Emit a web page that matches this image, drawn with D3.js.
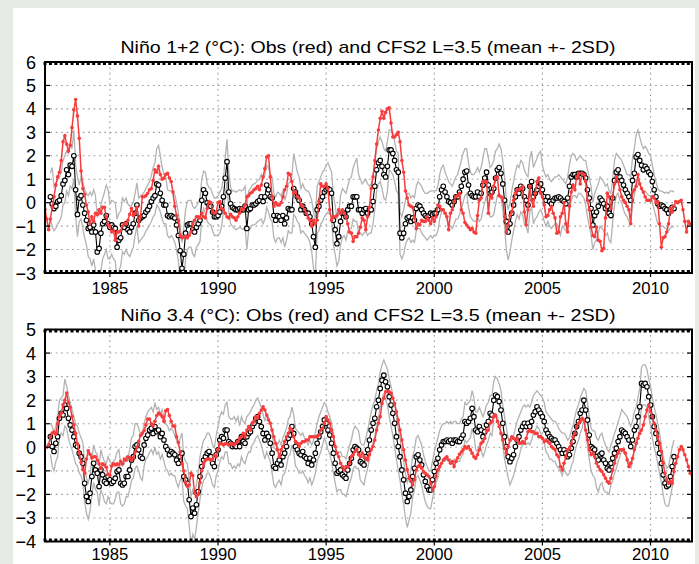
<!DOCTYPE html>
<html lang="en">
<head>
<meta charset="utf-8">
<title>Nino SST: Obs and CFS2</title>
<script src="https://cdn.jsdelivr.net/npm/d3@7"></script>
<style>
  body { margin: 0; background: #e8eae5; }
  svg { display: block; }
  text { font-family: "Liberation Sans", Arial, sans-serif; fill: #000; }
</style>
</head>
<body>
<script>

//****************************************************************************************************//
// Data (monthly, index 0 = Jan 1982)

var startYear = 1982;
var yearTicks = [1985, 1990, 1995, 2000, 2005, 2010];
var yTicks12 = [-3, -2, -1, 0, 1, 2, 3, 4, 5, 6];
var yTicks34 = [-4, -3, -2, -1, 0, 1, 2, 3, 4, 5];

var titles = ["Niño 1+2 (°C): Obs (red) and CFS2 L=3.5 (mean +- 2SD)",
              "Niño 3.4 (°C): Obs (red) and CFS2 L=3.5 (mean +- 2SD)"];

var obs12 = [
 -0.3,-0.7,-1.15,-0.7,-0.2,0.25,0.75,1.1,1.3,1.8,2.6,2.85,
 2.5,2.2,2.45,3.2,3.95,4.4,3.7,2.75,1.35,0.6,0.35,-0.1,
 -0.4,-0.9,-0.6,-0.8,-0.45,-0.5,-0.3,-0.45,-0.2,-0.2,-0.6,-0.95,
 -1.0,-1.25,-1.2,-1.6,-1.25,-1.25,-1.2,-1.0,-0.9,-0.9,-0.75,-0.5,
 -0.25,-0.55,-0.45,-0.2,-1.0,-0.6,0.25,0.25,0.3,0.4,0.55,0.6,
 0.95,1.4,1.3,1.55,1.2,1.0,1.05,1.2,1.25,1.05,0.9,0.45,
 -0.15,-0.55,-0.75,-1.4,-1.5,-1.45,-1.45,-1.5,-1.4,-1.25,-0.9,-0.75,
 -0.6,-0.6,-0.65,-0.45,-0.6,-0.65,-0.25,0.05,0.0,-0.4,-0.45,-0.4,
 0.0,0.05,-0.25,-0.3,-0.45,-0.6,-0.65,-0.5,-0.6,-0.65,-0.75,-0.6,
 -0.45,-0.25,-0.3,-0.1,0.25,0.3,0.4,0.45,0.55,0.6,0.7,0.55,
 0.75,1.1,1.45,1.95,2.0,1.1,0.25,-0.15,0.0,-0.1,-0.1,0.0,
 0.25,0.55,0.7,1.25,1.2,0.9,0.4,0.45,0.25,0.2,-0.1,-0.15,
 -0.3,-0.45,-0.65,-0.75,-1.0,-0.75,-0.9,-0.75,0.05,0.8,0.7,0.7,
 0.8,0.6,-0.3,-0.75,-0.6,-0.6,-0.55,-0.3,-0.45,-0.3,-0.45,-0.6,
 -0.9,-1.25,-1.3,-1.65,-1.45,-1.45,-1.3,-1.05,-0.65,-0.75,-1.15,-0.6,
 -0.2,0.6,1.1,1.8,2.5,3.1,3.6,3.9,3.6,3.85,4.0,4.05,
 3.4,2.8,2.8,2.9,3.0,2.6,1.8,1.3,0.5,0.2,-0.1,-0.15,
 -0.2,-0.65,-1.1,-0.9,-0.95,-0.75,-0.8,-0.8,-0.6,-0.75,-0.9,-0.65,
 -0.8,-0.6,-0.1,-0.15,-0.3,-0.3,-0.45,-0.6,-1.15,-0.45,-0.3,0.05,
 0.25,0.3,0.4,-0.3,-0.45,-0.85,-0.95,-1.05,-1.15,-1.1,-1.25,-1.3,
 -0.55,0.1,0.2,0.9,0.9,0.9,-0.45,0.3,0.2,0.7,1.05,1.1,
 0.3,0.25,0.2,-0.6,-1.25,-0.95,-0.55,-0.4,0.1,0.4,0.55,0.55,
 0.6,0.7,-0.4,-0.95,-0.3,0.7,0.1,-0.15,0.4,0.9,1.05,0.4,
 0.25,-0.1,-0.6,-0.55,-0.3,-0.15,-0.45,-0.65,-1.3,-1.25,-0.6,-0.45,
 0.0,-0.9,-1.25,-0.15,0.45,0.75,0.55,1.1,1.25,0.8,1.25,1.2,
 0.9,0.1,-0.3,-1.05,-1.4,-1.45,-1.05,-1.6,-1.65,-2.05,-1.95,-0.65,
 0.4,0.25,-0.25,0.25,0.8,1.1,0.9,0.55,0.25,0.1,0.0,-0.15,
 -0.3,-0.9,0.45,0.55,0.7,1.2,0.8,0.6,0.45,0.25,0.1,0.1,
 0.1,0.25,0.2,0.0,0.05,-0.9,-1.9,-1.5,-1.45,-1.25,-0.9,-0.25,
 -0.4,-0.15,0.05,0.0,0.05,0.1,-0.3,-0.8,-1.25,-0.8,-0.9,-0.9
];

var mean12 = [
 null,null,null,0.25,-0.05,-0.25,-0.15,0.05,0.1,0.3,0.8,0.95,
 1.4,1.2,1.6,1.55,2.0,0.55,-0.5,0.2,0.3,-0.1,-0.45,-0.75,
 -1.1,-1.05,-1.25,-0.95,-1.25,-2.1,-1.95,-1.3,-0.9,-0.8,-0.55,-0.9,
 -1.05,-0.95,-1.05,-1.1,-1.9,-1.6,-1.5,-0.95,-1.05,-0.9,-1.15,-1.25,
 -1.05,-0.9,-0.45,-0.1,-0.75,-0.65,-0.6,-0.55,-0.4,-0.3,-0.15,0.05,
 0.2,0.3,0.8,0.75,0.4,0.1,-0.1,-0.1,-0.55,-0.6,-0.55,-0.6,
 -0.65,-0.95,-1.4,-2.05,-2.8,-2.2,-1.3,-0.95,-0.9,-0.9,-1.15,-1.25,
 -1.05,-0.9,-0.75,0.1,0.55,0.4,0.0,-0.1,-0.15,-0.4,-0.6,-0.6,
 -0.55,-0.4,-0.15,0.25,1.05,1.75,0.45,-0.05,-0.2,-0.25,-0.3,-0.3,
 -0.25,-0.3,-0.3,-0.15,-1.1,-0.3,-0.25,-0.1,-0.1,-0.05,0.05,0.1,
 0.25,0.05,0.25,0.75,0.55,0.25,0.2,-0.55,-0.75,-0.55,-0.6,-0.75,
 -0.55,-0.9,-0.65,-0.25,-0.3,-0.3,0.6,0.45,0.25,0.1,-0.3,-0.15,
 -0.3,-0.45,-0.45,-0.6,-0.9,-1.45,-1.9,-0.3,-0.15,0.1,0.25,0.45,
 0.55,0.6,0.55,0.4,-0.75,-1.15,-1.75,-1.45,-0.8,-0.45,-0.45,-0.6,
 -0.3,-0.15,-0.15,0.25,0.25,0.25,-0.3,-0.3,-0.45,-0.3,-0.25,-0.45,
 -0.3,-0.3,0.05,0.7,1.4,1.7,1.8,1.55,1.2,1.1,1.55,2.25,
 2.25,2.1,1.8,1.4,1.3,-1.3,-1.5,-1.3,-0.9,-0.65,-0.6,-0.8,
 -0.65,-0.75,-0.25,-0.1,-0.15,-0.3,-0.45,-0.55,-0.6,-0.55,-0.45,-0.5,
 -0.45,-0.45,-0.3,0.25,0.55,0.7,0.45,0.25,0.05,0.0,-0.1,0.05,
 0.25,0.25,0.45,0.7,1.0,1.3,1.35,0.75,0.4,0.3,0.25,0.25,
 0.45,0.25,0.4,0.75,1.05,1.3,0.75,0.4,0.45,0.6,1.05,1.4,
 1.5,1.25,0.8,0.1,-0.8,-1.25,-0.9,-0.45,-0.1,0.25,0.55,0.4,
 0.7,0.6,0.25,0.1,-0.1,0.7,0.9,0.25,0.4,0.55,0.7,0.8,
 0.55,0.25,0.1,0.25,0.05,-0.05,0.1,0.2,0.2,0.25,0.2,0.1,
 0.05,-0.05,0.2,0.7,1.1,1.2,1.2,1.1,1.25,1.25,1.25,1.2,
 1.05,0.55,0.2,-0.25,-0.95,-0.55,-0.4,-0.15,0.2,0.1,-0.05,-0.25,
 -0.15,-0.45,-0.55,0.2,0.95,1.3,1.4,1.1,0.95,0.75,0.55,0.4,
 0.25,0.1,0.95,1.25,1.95,2.05,1.8,1.6,1.4,1.55,1.45,1.3,
 1.2,0.9,0.55,0.25,-0.05,-0.15,-0.1,-0.15,-0.25,-0.3,-0.45,-0.3,
 -0.2,-0.25,null,null,null,null,null,null,null,null,null,null
];

var upper12 = [
 null,null,null,1.25,1.5,0.7,0.85,0.95,1.1,1.3,1.8,2.0,
 2.2,2.1,2.5,2.3,3.1,1.6,1.1,0.75,1.1,0.9,0.55,0.4,
 0.3,0.45,0.3,0.55,0.3,-0.6,-0.5,-0.1,0.2,0.45,0.75,0.55,
 -0.05,0.1,0.05,0.0,-0.7,-0.45,-0.35,0.2,0.05,0.2,-0.05,-0.15,
 -0.1,0.0,0.4,0.85,0.2,0.3,0.35,0.45,0.6,0.75,0.9,1.15,
 1.5,1.7,2.3,2.45,2.0,1.5,1.2,1.1,0.55,0.5,0.5,0.45,
 0.35,0.0,-0.45,-1.0,-1.7,-1.1,-0.3,0.05,0.1,0.1,-0.15,-0.25,
 -0.15,0.0,0.15,1.0,1.35,1.3,0.8,0.65,0.6,0.35,0.2,0.2,
 0.3,0.45,0.6,1.0,1.9,2.7,1.3,0.65,0.5,0.5,0.45,0.5,
 0.55,0.5,0.55,0.7,-0.2,0.5,0.6,0.75,0.8,0.85,0.95,1.0,
 1.2,1.0,1.2,1.6,1.5,1.2,1.1,0.4,0.25,0.45,0.4,0.3,
 0.5,0.1,0.35,0.8,0.9,1.1,2.1,1.7,1.3,1.1,0.6,0.8,
 0.6,0.5,0.5,0.35,0.1,-0.4,-0.7,0.7,0.9,1.1,1.3,1.4,
 1.6,1.7,1.5,1.3,0.3,-0.1,-0.7,-0.4,0.3,0.6,0.5,0.4,
 0.7,1.0,1.1,1.5,1.7,1.9,1.2,1.0,0.8,0.9,1.0,0.8,
 0.7,0.8,1.1,1.7,2.3,2.6,2.8,2.6,2.3,2.2,2.6,3.1,
 3.1,3.0,2.6,2.2,2.1,-0.4,-0.6,-0.3,0.1,0.4,0.4,0.2,
 0.3,0.2,0.7,0.9,0.8,0.7,0.5,0.4,0.4,0.45,0.5,0.5,
 0.5,0.5,0.7,1.2,1.5,1.6,1.3,1.1,0.9,0.8,0.7,0.9,
 1.1,1.2,1.5,1.8,2.1,2.3,2.3,1.7,1.3,1.2,1.2,1.3,
 1.5,1.3,1.5,1.9,2.3,2.3,1.9,1.5,1.6,1.8,2.2,2.3,
 2.5,2.3,1.8,1.1,0.1,-0.3,0.0,0.5,0.9,1.3,1.6,1.5,
 1.8,1.7,1.4,1.2,1.1,1.9,2.2,1.5,1.7,1.9,2.1,2.2,
 1.6,1.3,1.1,1.2,1.0,0.9,1.0,1.1,1.1,1.2,1.1,1.0,
 0.9,0.8,1.1,1.6,2.0,2.1,2.0,1.8,1.9,2.0,1.9,1.8,
 1.8,1.4,1.1,0.7,0.0,0.4,0.6,0.8,1.1,1.0,0.9,0.7,
 0.8,0.5,0.4,1.0,1.8,2.1,2.0,1.9,1.8,1.6,1.4,1.2,
 1.2,1.1,1.9,2.3,2.9,3.1,2.8,2.5,2.3,2.4,2.3,2.1,
 2.0,1.6,1.2,0.9,0.6,0.5,0.5,0.45,0.4,0.45,0.4,0.5,
 0.5,0.45,null,null,null,null,null,null,null,null,null,null
];

var lower12 = [
 null,null,null,-0.7,-1.0,-1.2,-1.1,-0.9,-0.8,-0.6,-0.1,0.0,
 0.5,0.3,0.7,0.6,1.0,-0.6,-1.45,-0.8,-0.7,-1.1,-1.5,-1.8,
 -2.3,-2.4,-2.7,-2.4,-2.9,-3.6,-3.5,-2.9,-2.4,-2.2,-2.0,-2.4,
 -2.4,-2.2,-2.4,-2.5,-3.3,-2.9,-2.7,-2.1,-2.2,-2.0,-2.2,-2.3,
 -2.1,-1.9,-1.4,-1.0,-1.7,-1.6,-1.5,-1.4,-1.2,-1.1,-0.95,-0.8,
 -0.6,-0.5,-0.1,-0.2,-0.4,-0.7,-0.9,-0.9,-1.4,-1.5,-1.4,-1.5,
 -1.7,-2.0,-2.5,-3.2,-4.0,-3.4,-2.4,-2.0,-1.9,-1.9,-2.2,-2.3,
 -1.9,-1.8,-1.65,-0.7,-0.25,-0.45,-0.8,-0.9,-0.95,-1.2,-1.4,-1.4,
 -1.4,-1.3,-1.0,-0.4,0.3,0.9,-0.4,-0.9,-1.0,-1.1,-1.15,-1.1,
 -1.05,-1.1,-1.15,-1.0,-2.0,-1.2,-1.1,-0.95,-0.95,-0.9,-0.8,-0.75,
 -0.7,-0.9,-0.7,-0.2,-0.4,-0.7,-0.8,-1.5,-1.7,-1.5,-1.5,-1.7,
 -1.5,-1.9,-1.6,-1.2,-1.3,-1.3,-0.5,-0.6,-0.8,-0.9,-1.3,-1.2,
 -1.3,-1.4,-1.5,-1.7,-2.1,-2.8,-3.2,-1.3,-1.2,-0.9,-0.8,-0.6,
 -0.5,-0.4,-0.5,-0.6,-1.8,-2.2,-2.7,-2.5,-1.8,-1.5,-1.4,-1.6,
 -1.2,-1.1,-1.1,-0.7,-0.8,-0.8,-1.3,-1.3,-1.4,-1.3,-1.2,-1.4,
 -1.3,-1.3,-0.9,-0.3,0.5,0.8,0.9,0.6,0.2,0.1,0.5,1.4,
 1.3,1.2,0.9,0.5,0.4,-2.2,-2.4,-2.2,-1.8,-1.6,-1.5,-1.7,
 -1.6,-1.7,-1.2,-1.1,-1.1,-1.3,-1.4,-1.5,-1.6,-1.5,-1.4,-1.5,
 -1.4,-1.4,-1.2,-0.7,-0.4,-0.3,-0.5,-0.7,-0.9,-1.0,-1.1,-0.9,
 -0.7,-0.7,-0.5,-0.3,0.0,0.3,0.4,-0.2,-0.6,-0.7,-0.8,-0.8,
 -0.6,-0.8,-0.7,-0.3,0.0,0.3,-0.3,-0.6,-0.6,-0.5,-0.1,0.3,
 0.4,0.2,-0.3,-1.0,-2.0,-2.45,-2.1,-1.6,-1.2,-0.8,-0.5,-0.7,
 -0.4,-0.5,-0.9,-1.0,-1.3,-0.4,-0.2,-0.9,-0.7,-0.6,-0.4,-0.3,
 -0.5,-0.8,-1.0,-0.8,-1.0,-1.1,-1.0,-0.9,-0.9,-1.2,-1.4,-1.0,
 -1.1,-1.2,-1.0,-0.4,0.1,0.3,0.3,0.2,0.4,0.4,0.3,0.2,
 -0.1,-0.6,-1.0,-1.4,-2.0,-1.7,-1.6,-1.3,-1.0,-1.1,-1.2,-1.4,
 -1.3,-1.6,-1.7,-0.8,-0.1,0.3,0.4,0.1,0.0,-0.3,-0.5,-0.6,
 -0.8,-0.9,-0.1,0.3,0.9,1.0,0.8,0.6,0.4,0.5,0.4,0.3,
 0.3,0.0,-0.3,-0.6,-0.9,-1.0,-1.0,-1.0,-1.1,-1.1,-1.2,-1.1,
 -1.0,-1.05,null,null,null,null,null,null,null,null,null,null
];

var obs34 = [
 0.0,0.0,0.1,0.45,0.6,0.65,0.55,1.0,1.3,1.45,1.8,2.0,
 2.3,1.9,1.7,1.3,0.95,0.6,0.15,-0.25,-0.65,-0.95,-1.1,-0.5,
 -0.15,-0.3,-0.45,-0.4,-0.4,-0.55,-0.7,-0.9,-0.7,-0.75,-0.85,-1.15,
 -1.2,-0.8,-0.7,-0.75,-0.7,-0.75,-0.6,-0.7,-0.5,-0.55,-0.4,-0.45,
 -0.55,-0.45,-0.2,0.0,0.25,0.5,0.6,0.7,0.95,1.2,1.2,1.0,
 0.9,1.1,1.35,1.45,1.4,1.3,1.1,1.55,1.6,1.35,1.1,0.9,
 0.9,0.45,0.2,-0.2,-0.7,-1.0,-1.5,-1.65,-1.6,-1.1,-1.2,-1.95,
 -2.1,-2.0,-1.5,-1.0,-0.7,-0.55,-0.5,-0.5,-0.55,-0.5,-0.35,-0.4,
 -0.1,0.15,0.15,0.1,0.15,0.15,0.1,0.15,0.15,0.1,0.17,0.24,
 0.38,0.45,0.59,0.45,0.73,0.88,0.73,1.02,1.09,1.3,1.23,1.44,
 1.58,1.72,1.58,1.37,1.16,1.02,0.73,0.45,0.17,-0.11,-0.4,-0.11,
 0.03,0.24,0.45,0.59,0.81,0.73,0.45,0.24,0.17,0.03,0.17,0.24,
 0.24,0.31,0.31,0.45,0.45,0.45,0.45,0.45,0.52,0.73,0.81,1.02,
 1.3,1.16,1.02,0.73,0.45,0.03,-0.25,-0.4,-0.68,-0.82,-0.96,-0.82,
 -0.82,-0.68,-0.4,-0.32,-0.18,-0.11,-0.32,-0.4,-0.25,-0.4,-0.47,-0.54,
 -0.32,-0.11,0.03,0.31,0.73,1.02,1.3,1.86,2.08,2.36,2.36,2.36,
 2.29,2.08,1.86,1.51,1.16,0.73,0.31,-0.11,-0.54,-0.96,-1.31,-1.45,
 -1.6,-1.38,-0.96,-0.82,-0.75,-0.89,-1.03,-1.1,-1.17,-1.24,-1.53,-1.81,
 -1.67,-1.24,-0.96,-0.82,-0.68,-0.54,-0.47,-0.4,-0.54,-0.68,-0.61,-0.82,
 -0.6,-0.45,-0.3,-0.2,-0.1,0.03,-0.04,0.03,-0.11,-0.25,-0.4,-0.47,
 -0.32,-0.11,0.17,0.24,0.38,0.73,0.73,1.02,1.09,1.3,1.37,1.09,
 0.88,0.59,0.31,-0.04,-0.25,0.03,0.31,0.45,0.38,0.31,0.38,0.17,
 0.17,0.24,0.17,0.38,0.66,0.73,0.66,0.66,0.59,0.59,0.45,0.45,
 0.38,0.24,0.31,0.24,0.17,0.03,-0.04,-0.11,-0.32,-0.4,-0.82,-0.96,
 -0.68,-0.4,-0.11,-0.04,0.17,0.45,0.59,0.88,1.02,1.1,1.23,1.16,
 0.73,0.31,-0.11,-0.32,-0.25,-0.4,-0.68,-0.82,-0.96,-1.03,-1.17,-1.31,
 -1.45,-1.53,-1.31,-0.96,-0.68,-0.4,-0.25,-0.11,-0.11,-0.11,-0.25,-0.54,
 -0.82,-0.68,-0.47,-0.11,0.17,0.38,0.59,0.73,0.95,1.3,1.58,1.79,
 1.51,1.3,1.02,0.73,0.45,0.17,-0.18,-0.68,-1.1,-1.38,-1.53,-1.45,
 -1.53,-1.03,-0.68,-0.4,-0.11,0.03,-0.11,-0.32,-0.54,-0.82,-1.1,-1.17
];

var mean34 = [
 null,null,null,0.45,0.03,-0.18,0.17,0.45,1.23,1.44,1.37,1.79,
 1.65,1.23,0.95,0.73,0.45,0.1,0.03,-0.25,-0.4,-0.68,-1.53,-2.09,
 -2.3,-1.95,-1.24,-0.68,-0.96,-1.1,-1.67,-0.96,-1.17,-1.45,-1.53,-1.24,
 -1.38,-1.53,-1.45,-1.31,-1.03,-0.96,-1.53,-1.6,-1.53,-1.24,-1.24,-0.96,
 -0.54,-0.4,0.03,0.1,-0.11,-0.4,-0.47,0.1,0.38,0.52,0.73,0.81,
 0.59,0.88,0.66,0.73,0.45,0.59,0.31,0.03,-0.11,-0.32,-0.18,-0.25,
 -0.32,-0.54,-0.68,-0.4,-0.25,-1.24,-1.38,-1.53,-2.23,-2.94,-2.58,-2.8,
 -2.44,-1.88,-1.24,-0.82,-0.54,-0.4,-0.25,-0.18,-0.4,-0.68,-0.82,-0.32,
 -0.11,0.31,0.45,0.38,0.73,0.73,0.24,0.17,0.03,0.1,0.03,0.24,
 0.03,0.45,0.24,0.17,0.45,0.59,0.66,0.88,1.02,1.23,1.3,1.09,
 0.88,0.59,0.31,0.59,0.45,0.17,-0.25,-0.82,-0.89,-0.68,-0.54,-0.75,
 -0.4,-0.25,0.03,0.38,0.52,0.88,0.59,0.03,-0.11,-0.25,-0.32,-0.18,
 -0.4,-0.47,-0.68,-0.47,-0.75,-0.54,-0.25,0.17,0.45,0.66,0.88,1.16,
 1.02,0.73,0.52,0.17,-0.25,-0.68,-1.1,-1.03,-0.96,-1.17,-1.24,-1.31,
 -0.96,-0.68,-0.47,-0.11,0.03,-0.04,-0.11,-0.61,-0.68,-0.75,-0.4,-0.11,
 0.31,0.73,1.02,1.23,1.72,2.0,2.5,2.85,3.06,2.78,2.57,2.15,
 1.79,1.44,1.02,0.45,0.03,-0.4,-0.96,-1.38,-1.95,-2.3,-2.09,-1.81,
 -1.24,-0.89,-0.4,-0.32,-0.54,-0.75,-1.17,-1.45,-1.67,-1.81,-1.81,-1.38,
 -1.03,-0.68,-0.47,-0.11,0.1,0.24,0.24,0.31,0.24,0.31,0.17,0.31,
 0.31,0.24,0.24,0.38,0.52,1.09,1.02,1.09,1.23,1.65,1.3,0.73,
 0.66,0.88,0.73,0.45,0.66,0.95,1.09,1.44,1.37,2.0,2.22,2.15,
 1.94,1.58,1.02,0.45,0.03,-0.4,-0.61,-0.47,-0.32,0.03,0.31,0.45,
 0.73,0.88,1.02,0.88,1.02,0.88,1.09,1.37,1.51,1.72,1.58,1.44,
 1.3,1.09,0.73,0.59,0.45,0.38,0.31,0.31,0.17,0.03,-0.11,-0.25,
 -0.11,-0.25,-0.4,-0.32,-0.04,0.24,0.59,0.88,1.09,1.44,1.58,2.0,
 1.58,1.16,0.52,0.03,-0.04,-0.11,-0.4,-0.54,-0.32,-0.25,-0.54,-0.68,
 -0.89,-0.96,-0.68,-0.47,-0.25,-0.04,0.24,0.45,0.73,0.66,0.59,0.45,
 0.31,0.03,0.31,0.73,0.88,1.3,1.72,2.71,2.64,2.71,2.57,2.15,
 1.79,1.3,0.88,0.59,0.17,-0.25,-0.68,-1.17,-1.53,-1.67,-1.6,-1.24,
 -0.82,-0.4,null,null,null,null,null,null,null,null,null,null
];

var upper34 = [
 null,null,null,1.0,0.9,0.6,0.9,1.3,2.0,2.1,2.2,2.9,
 2.6,2.2,1.9,1.6,1.3,1.0,0.9,0.6,0.4,0.2,-0.7,-1.3,
 -1.5,-1.2,-0.5,0.1,-0.2,-0.3,-0.8,-0.1,-0.4,-0.6,-0.7,-0.4,
 -0.6,-0.7,-0.6,-0.5,-0.2,-0.1,-0.7,-0.8,-0.7,-0.4,-0.5,-0.1,
 0.4,0.5,1.0,1.0,0.8,0.5,0.5,1.0,1.3,1.5,1.6,1.7,
 1.5,1.9,1.6,1.7,1.4,1.6,1.3,1.0,0.9,0.7,0.8,0.7,
 0.5,0.3,0.1,0.4,0.6,-0.4,-0.6,-0.7,-1.4,-2.1,-1.8,-2.0,
 -1.6,-1.1,-0.4,0.0,0.3,0.4,0.6,0.6,0.4,0.1,0.0,0.5,
 0.9,1.3,1.5,1.4,1.8,1.9,1.3,1.2,1.2,1.3,1.1,1.3,
 0.9,1.3,1.1,1.0,1.3,1.4,1.5,1.7,1.8,2.0,2.1,1.9,
 1.7,1.4,1.1,1.4,1.3,1.0,0.6,0.0,-0.1,0.1,0.3,0.1,
 0.4,0.6,0.8,1.2,1.3,1.7,1.4,0.8,0.7,0.6,0.5,0.6,
 0.4,0.3,0.1,0.3,0.1,0.3,0.6,1.0,1.3,1.5,1.7,1.9,
 1.8,1.5,1.3,1.0,0.6,0.1,-0.3,-0.2,-0.2,-0.4,-0.4,-0.5,
 -0.2,0.1,0.3,0.7,0.9,0.8,0.7,0.2,0.1,0.1,0.4,0.7,
 1.1,1.5,1.8,2.0,2.4,2.7,3.2,3.5,3.7,3.5,3.3,2.9,
 2.6,2.2,1.8,1.3,0.8,0.4,-0.2,-0.6,-1.1,-1.5,-1.3,-1.0,
 -0.4,-0.1,0.4,0.5,0.3,0.1,-0.3,-0.6,-0.8,-1.0,-1.0,-0.6,
 -0.2,0.1,0.4,0.7,0.9,1.0,1.0,1.1,1.0,1.1,1.0,1.1,
 1.1,1.0,1.0,1.2,1.3,1.9,1.8,1.9,2.0,2.4,2.1,1.5,
 1.5,1.7,1.5,1.3,1.5,1.8,1.9,2.2,2.2,2.8,3.0,2.9,
 2.7,2.4,1.8,1.3,0.8,0.4,0.2,0.3,0.5,0.8,1.1,1.3,
 1.5,1.7,1.8,1.7,1.8,1.7,1.9,2.2,2.3,2.4,2.3,2.2,
 2.1,1.9,1.5,1.4,1.3,1.2,1.1,1.1,1.0,0.8,0.7,0.6,
 0.6,0.5,0.3,0.4,0.7,0.9,1.3,1.6,1.8,2.1,2.3,2.5,
 2.4,1.9,1.3,0.8,0.7,0.7,0.4,0.3,0.5,0.6,0.3,0.1,
 -0.1,-0.2,0.1,0.3,0.6,0.8,1.1,1.3,1.6,1.5,1.4,1.3,
 1.1,0.9,1.1,1.5,1.7,2.1,2.5,3.4,3.5,3.5,3.3,2.9,
 2.6,2.1,1.7,1.4,1.0,0.6,0.1,-0.4,-0.7,-0.9,-0.8,-0.4,
 0.0,0.3,null,null,null,null,null,null,null,null,null,null
];

var lower34 = [
 null,null,null,-0.3,-0.8,-1.0,-0.6,-0.4,0.4,0.6,0.5,0.9,
 0.8,0.4,0.1,-0.1,-0.4,-0.7,-0.8,-1.1,-1.2,-1.5,-2.3,-2.8,
 -3.05,-2.7,-2.0,-1.5,-1.8,-1.9,-2.5,-1.8,-2.0,-2.3,-2.4,-2.1,
 -2.3,-2.4,-2.4,-2.2,-1.9,-1.9,-2.4,-2.5,-2.4,-2.1,-2.1,-1.8,
 -1.4,-1.3,-0.9,-0.8,-1.0,-1.3,-1.4,-0.8,-0.5,-0.4,-0.2,-0.1,
 -0.3,0.0,-0.3,-0.2,-0.5,-0.3,-0.6,-0.9,-1.0,-1.2,-1.1,-1.2,
 -1.2,-1.5,-1.7,-1.4,-1.3,-2.3,-2.5,-2.6,-3.3,-4.1,-3.7,-3.9,
 -3.4,-2.8,-2.2,-1.7,-1.4,-1.3,-1.1,-1.1,-1.3,-1.6,-1.7,-1.2,
 -1.0,-0.6,-0.4,-0.5,-0.2,-0.2,-0.7,-0.7,-0.9,-0.8,-0.9,-0.7,
 -0.8,-0.4,-0.6,-0.7,-0.4,-0.2,-0.2,0.1,0.2,0.4,0.5,0.3,
 0.1,-0.2,-0.5,-0.2,-0.4,-0.6,-1.1,-1.6,-1.7,-1.5,-1.4,-1.6,
 -1.2,-1.1,-0.8,-0.4,-0.3,0.1,-0.2,-0.8,-0.9,-1.1,-1.1,-1.0,
 -1.2,-1.3,-1.5,-1.3,-1.6,-1.4,-1.1,-0.6,-0.4,-0.2,0.1,0.4,
 0.2,-0.1,-0.3,-0.6,-1.1,-1.5,-1.9,-1.8,-1.8,-2.0,-2.0,-2.1,
 -1.8,-1.5,-1.3,-0.9,-0.8,-0.9,-0.9,-1.4,-1.5,-1.6,-1.2,-0.9,
 -0.5,-0.1,0.2,0.4,0.9,1.2,1.7,2.0,2.3,2.0,1.8,1.3,
 0.9,0.5,0.0,-0.5,-1.0,-1.4,-2.0,-2.4,-3.0,-3.4,-3.1,-2.8,
 -2.1,-1.8,-1.3,-1.2,-1.4,-1.6,-2.0,-2.3,-2.5,-2.6,-2.6,-2.2,
 -1.8,-1.5,-1.3,-0.9,-0.7,-0.6,-0.6,-0.5,-0.6,-0.5,-0.7,-0.5,
 -0.5,-0.6,-0.6,-0.4,-0.3,0.3,0.2,0.3,0.4,0.8,0.5,-0.1,
 -0.2,0.1,-0.1,-0.4,-0.2,0.1,0.3,0.6,0.5,1.2,1.4,1.3,
 1.0,0.7,0.1,-0.5,-0.9,-1.3,-1.6,-1.4,-1.2,-0.9,-0.6,-0.4,
 -0.1,0.1,0.2,0.1,0.2,0.1,0.3,0.6,0.7,0.9,0.8,0.6,
 0.4,0.2,-0.2,-0.3,-0.5,-0.5,-0.6,-0.6,-0.8,-0.9,-1.0,-1.2,
 -0.9,-1.1,-1.2,-1.1,-0.8,-0.6,-0.2,0.1,0.3,0.6,0.8,1.2,
 0.6,0.1,-0.5,-1.0,-1.2,-1.3,-1.7,-1.9,-1.6,-1.5,-1.8,-1.9,
 -1.9,-2.0,-1.6,-1.4,-1.1,-0.9,-0.6,-0.4,-0.1,-0.2,-0.3,-0.4,
 -0.6,-0.9,-0.6,-0.1,0.0,0.4,0.8,1.8,1.8,1.8,1.7,1.3,
 0.9,0.4,0.0,-0.3,-0.7,-1.1,-1.5,-2.0,-2.4,-2.5,-2.5,-2.1,
 -1.7,-1.3,null,null,null,null,null,null,null,null,null,null
];

//****************************************************************************************************//
// Canvas

var width = 699, height = 564;
var left = 45, right = 692;

var svg = d3.select("body").append("svg")
    .attr("width", width)
    .attr("height", height);

svg.append("rect")
    .attr("x", 13).attr("y", 8)
    .attr("width", 682).attr("height", height - 8)
    .attr("fill", "#ffffff");

var nMonths = obs12.length;
var x = d3.scaleLinear()
    .domain([startYear, startYear + (nMonths - 1) / 12])
    .range([left, right]);

function monthX(i) { return x(startYear + i / 12); }

//****************************************************************************************************//
// Panel

function drawPanel(id, top, bottom, labelY, yTicks, title, obs, mean, upper, lower){
    var y = d3.scaleLinear()
        .domain([yTicks[0], yTicks[yTicks.length - 1]])
        .range([bottom, top]);

    var g = svg.append("g");

    g.append("clipPath").attr("id", "clip" + id)
      .append("rect")
        .attr("x", left).attr("y", top)
        .attr("width", right - left).attr("height", bottom - top);

    // dotted grid
    g.selectAll(".hgrid").data(yTicks.slice(1, -1)).enter().append("line")
        .attr("x1", left).attr("x2", right)
        .attr("y1", d => y(d)).attr("y2", d => y(d))
        .attr("stroke", "#9a9a9a").attr("stroke-width", 1.1)
        .attr("stroke-dasharray", "1.6,3.8");

    g.selectAll(".vgrid").data(yearTicks).enter().append("line")
        .attr("x1", d => x(d)).attr("x2", d => x(d))
        .attr("y1", top).attr("y2", bottom)
        .attr("stroke", "#9a9a9a").attr("stroke-width", 1.1)
        .attr("stroke-dasharray", "1.6,3.8");

    var lines = g.append("g").attr("clip-path", "url(#clip" + id + ")");

    var line = d3.line()
        .defined(d => d != null)
        .x((d, i) => monthX(i))
        .y(d => y(d));

    [upper, lower].forEach(function(s){
        lines.append("path")
            .attr("d", line(s))
            .attr("fill", "none")
            .attr("stroke", "#b3b3b3")
            .attr("stroke-width", 1.3);
    });

    lines.append("path")
        .attr("d", line(mean))
        .attr("fill", "none")
        .attr("stroke", "#000")
        .attr("stroke-width", 1.1);

    lines.selectAll(".mc").data(mean.map((v, i) => [i, v]).filter(d => d[1] != null))
        .enter().append("circle")
        .attr("cx", d => monthX(d[0])).attr("cy", d => y(d[1]))
        .attr("r", 2.3)
        .attr("fill", "#fff").attr("stroke", "#000").attr("stroke-width", 1.1);

    lines.append("path")
        .attr("d", line(obs))
        .attr("fill", "none")
        .attr("stroke", "#f63c3c")
        .attr("stroke-width", 1.5);

    lines.selectAll(".od").data(obs.map((v, i) => [i, v]).filter(d => d[1] != null))
        .enter().append("circle")
        .attr("cx", d => monthX(d[0])).attr("cy", d => y(d[1]))
        .attr("r", 1.8)
        .attr("fill", "#f63c3c");

    // frame and ticks
    g.append("rect")
        .attr("x", left).attr("y", top)
        .attr("width", right - left).attr("height", bottom - top)
        .attr("fill", "none").attr("stroke", "#000").attr("stroke-width", 2);

    var qTicks = d3.range(0, nMonths, 3);
    g.selectAll(".qt").data(qTicks).enter().append("line")
        .attr("x1", d => monthX(d)).attr("x2", d => monthX(d))
        .attr("y1", top).attr("y2", top + 3)
        .attr("stroke", "#000").attr("stroke-width", 3);
    g.selectAll(".qb").data(qTicks).enter().append("line")
        .attr("x1", d => monthX(d)).attr("x2", d => monthX(d))
        .attr("y1", bottom).attr("y2", bottom - 3)
        .attr("stroke", "#000").attr("stroke-width", 3);

    g.selectAll(".yt").data(yearTicks).enter().append("line")
        .attr("x1", d => x(d)).attr("x2", d => x(d))
        .attr("y1", bottom).attr("y2", bottom + 4)
        .attr("stroke", "#000").attr("stroke-width", 1.2);

    g.selectAll(".lt").data(yTicks).enter().append("line")
        .attr("x1", left).attr("x2", left + 5)
        .attr("y1", d => y(d)).attr("y2", d => y(d))
        .attr("stroke", "#000").attr("stroke-width", 1.2);
    g.selectAll(".rt").data(yTicks).enter().append("line")
        .attr("x1", right - 5).attr("x2", right)
        .attr("y1", d => y(d)).attr("y2", d => y(d))
        .attr("stroke", "#000").attr("stroke-width", 1.2);

    // labels
    g.selectAll(".yl").data(yTicks).enter().append("text")
        .attr("x", 36).attr("y", d => y(d) + 6.5)
        .attr("text-anchor", "end")
        .attr("font-size", 18)
        .text(d => d < 0 ? "\u2212" + Math.abs(d) : d);

    g.selectAll(".xl").data(yearTicks).enter().append("text")
        .attr("x", d => x(d)).attr("y", labelY)
        .attr("text-anchor", "middle")
        .attr("font-size", 17)
        .attr("textLength", 37).attr("lengthAdjust", "spacingAndGlyphs")
        .text(d => d);

    g.append("text")
        .attr("x", (left + right) / 2 - 248).attr("y", top - 9)
        .attr("font-size", 17)
        .attr("textLength", 495).attr("lengthAdjust", "spacingAndGlyphs")
        .text(title);
}

drawPanel(1, 62, 273, 294, yTicks12, titles[0], obs12, mean12, upper12, lower12);
drawPanel(2, 329.5, 541.5, 559.5, yTicks34, titles[1], obs34, mean34, upper34, lower34);

</script>
</body>
</html>
